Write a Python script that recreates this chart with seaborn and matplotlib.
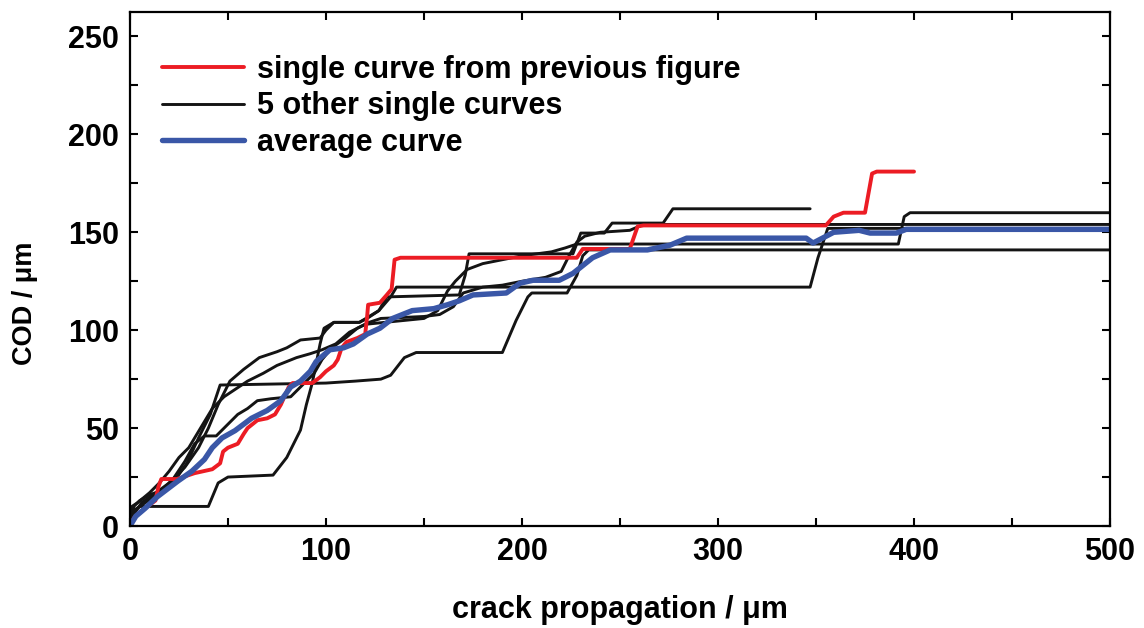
import matplotlib
matplotlib.use("Agg")
import matplotlib.pyplot as plt
import seaborn as sns
import numpy as np
import pandas as pd

# ---------------- data ----------------
red_x = [0, 2, 5, 9, 13, 14.5, 16, 24, 33, 42, 46, 47.5, 50, 55, 58, 60, 65, 70, 74, 77, 81, 83, 93, 97,
         100, 104, 106, 108, 110.5, 116, 120, 121, 121.5, 127.5, 131, 133.5, 135, 138, 228, 231, 255, 259,
         262, 355, 359, 364, 375, 378.6, 381, 400]
red_y = [0, 4, 7, 10, 13, 20, 24, 24, 27, 29, 32, 38, 40, 42, 47, 50, 54, 55, 57, 62, 71, 73, 73, 76,
         79, 82, 85, 91, 94, 96, 98, 107, 113, 114, 118, 121, 136, 137, 137, 141.5, 141.5, 153,
         153.5, 153.5, 158, 160, 160, 180, 181, 181]

blue_x = [0, 3, 7.7, 14, 24.5, 31.6, 38, 42, 47, 53.6, 62, 70, 77, 82, 87, 92, 95, 98.5, 102, 109, 114,
          121, 127.5, 134, 144, 155, 162, 168, 175, 192, 199, 205.6, 219, 226, 236, 245, 264, 275.5, 284,
          345, 348.5, 359, 372, 377.6, 391, 396, 500]
blue_y = [0, 5, 9, 15, 23, 28, 34, 40, 45, 48.7, 55, 59, 64, 71, 74, 79, 84, 87, 90, 91, 93,
          98, 101, 106, 110, 111, 113, 115, 118, 119, 124, 125.5, 125.5, 129, 137, 141, 141, 143.4, 147,
          147, 144.5, 150, 151, 149.6, 149.6, 151.5, 151.5]

b1_x = [0, 2, 6, 12, 20, 28, 35, 40, 45, 51, 58, 66, 75, 80, 87, 97, 100, 104, 117, 122, 127, 131, 168,
        171, 173, 226, 230, 242, 246, 272, 277, 347]
b1_y = [0, 6, 12, 16, 22, 30, 40, 50, 62, 74, 80, 86, 89, 91, 95, 96, 100, 104, 104, 107, 110, 117, 118,
        128, 139, 139, 149.6, 149.6, 154.7, 154.7, 162, 162]

b2_x = [0, 1, 4, 10, 15, 20, 25, 30, 36, 42, 48, 54, 60, 68, 75, 85, 92, 98, 105, 112, 120, 140, 150,
        157, 162, 166, 172, 180, 190, 200, 215, 222, 228, 392, 395, 398, 500]
b2_y = [0, 10, 12, 17, 22, 28, 35, 40, 50, 60, 66, 70, 74, 78, 82, 86, 88, 90, 93, 99, 103, 105, 106,
        110, 120, 125, 131, 134, 136, 138, 140, 142, 144, 144, 158, 160, 160]

b3_x = [0, 2, 5, 10, 16, 22, 28, 33, 38, 44, 50, 55, 60, 65, 72, 82, 88, 94, 98, 103, 110, 116, 122, 128,
        150, 158, 165, 170, 180, 190, 200, 212, 220, 224, 228, 232, 240, 255, 262, 500]
b3_y = [0, 10, 13, 16, 18, 24, 33, 42, 46, 46, 52, 57, 60, 64, 65, 66, 72, 78, 85, 91, 96, 101, 104, 106,
        107, 108, 112, 119, 122, 123, 125, 127, 130, 138, 145, 148, 150, 151, 154, 154]

b4_x = [0, 2, 8, 15, 22, 29, 35, 41, 46, 100, 115, 128, 133, 140, 146, 190, 197, 203, 205, 223, 228,
        231, 234, 500]
b4_y = [0, 8, 12, 17, 22, 32, 45, 57, 72, 73, 74, 75, 77, 86, 88.6, 88.6, 105, 117, 119, 119, 128,
        138, 141, 141]

b5_x = [0, 3, 5, 40, 45, 50, 73, 80, 87, 90, 93, 97, 99, 104, 117, 121, 127, 133, 136, 347, 351, 356, 500]
b5_y = [0, 8, 10, 10, 22, 25, 26, 35, 49, 62, 73, 93, 101, 104, 104, 106, 110, 117, 122, 122, 137, 152, 152]

x_ticks = [0, 100, 200, 300, 400, 500]
y_ticks = [0, 50, 100, 150, 200, 250]

label_red = "single curve from previous figure"
label_black = "5 other single curves"
label_blue = "average curve"
xlabel = "crack propagation / \u03bcm"
ylabel = "COD / \u03bcm"

# ---------------- style ----------------
sns.set_style("ticks")
plt.rcParams["font.family"] = ["Liberation Sans", "DejaVu Sans"]
plt.rcParams["font.weight"] = "bold"
plt.rcParams["axes.labelweight"] = "bold"
for k in ["text.color", "axes.labelcolor", "xtick.color", "ytick.color", "axes.edgecolor"]:
    plt.rcParams[k] = "black"

RED = "#EC1C24"
BLUE = "#3A57A7"
BLACK = "#141414"

fig = plt.figure(figsize=(11.44, 6.28), dpi=100)
ax = fig.add_axes([0.1136, 0.1624, 0.9703 - 0.1136, 0.9809 - 0.1624])

blacks = [(b1_x, b1_y), (b2_x, b2_y), (b3_x, b3_y), (b4_x, b4_y), (b5_x, b5_y)]
for i, (bx, by) in enumerate(blacks):
    sns.lineplot(x=bx, y=by, ax=ax, color=BLACK, linewidth=2.1, sort=False, estimator=None,
                 label=label_black if i == 0 else "_nolegend_")
sns.lineplot(x=red_x, y=red_y, ax=ax, color=RED, linewidth=2.8, sort=False, estimator=None,
             label=label_red)
sns.lineplot(x=blue_x, y=blue_y, ax=ax, color=BLUE, linewidth=3.9, sort=False, estimator=None,
             label=label_blue)

ax.set_xlim(0, 500)
ax.set_ylim(0, 262.5)
ax.set_xticks(x_ticks)
ax.set_yticks(y_ticks)
ax.set_xticks(np.arange(50, 500, 100), minor=True)
ax.set_yticks(np.arange(25, 262, 50), minor=True)
ax.tick_params(which="both", direction="in", top=True, right=True, length=6, width=1.5,
               labelsize=22, pad=8, colors="black")
for lbl in ax.get_xticklabels() + ax.get_yticklabels():
    lbl.set_fontweight("bold")
for s in ax.spines.values():
    s.set_visible(True)
    s.set_linewidth(1.6)
    s.set_color("black")

ax.set_xlabel(xlabel, fontsize=22, fontweight="bold", labelpad=20, color="black")
ax.set_ylabel(ylabel, fontsize=19.5, fontweight="bold", color="black")
ax.yaxis.set_label_coords(-0.094, 0.433)

handles, labels = ax.get_legend_handles_labels()
order = [labels.index(label_red), labels.index(label_black), labels.index(label_blue)]
leg = ax.legend([handles[i] for i in order], [labels[i] for i in order], loc="upper left",
                bbox_to_anchor=(0.02, 0.94), frameon=False, fontsize=22, handlelength=2.7,
                handletextpad=0.42, labelspacing=0.21, borderaxespad=0.0)
for t in leg.get_texts():
    t.set_fontweight("bold")
    t.set_color("black")

fig.savefig("out.png", dpi=100)
